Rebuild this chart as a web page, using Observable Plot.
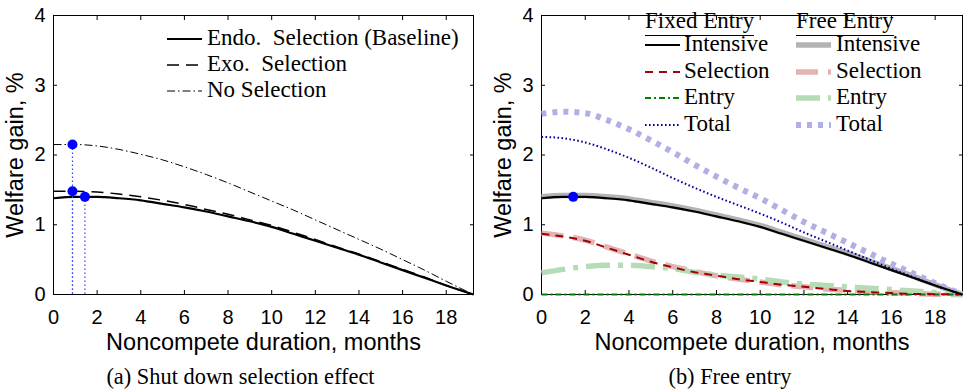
<!DOCTYPE html>
<html><head><meta charset="utf-8">
<script src="https://cdn.jsdelivr.net/npm/d3@7"></script>
<script src="https://cdn.jsdelivr.net/npm/@observablehq/plot@0.6"></script>
<style>
body{margin:0;background:#fff;}
#wrap{position:relative;width:963px;height:390px;overflow:hidden;background:#fff;}
.panel{position:absolute;top:0;}
.cap{position:absolute;top:366px;font-family:"Liberation Serif","Times New Roman",serif;font-size:22.4px;line-height:22px;text-align:center;white-space:pre;}
.leg{position:absolute;font-family:"Liberation Serif","Times New Roman",serif;font-size:23px;line-height:16px;height:16px;white-space:pre;color:#000;}
.leg svg{position:absolute;}
.hdr{position:absolute;font-family:"Liberation Serif","Times New Roman",serif;font-size:23px;line-height:20px;padding-bottom:4px;border-bottom:1px solid #000;white-space:pre;}
</style></head><body><div id="wrap"></div>
<script>
// ---- data ----
const months = [0,1,2,3,4,5,6,7,8,9,10,11,12,13,14,15,16,17,18,19.25];
const xTicks = [0,2,4,6,8,10,12,14,16,18];
const yTicks = [0,1,2,3,4];

// panel (a)
const endoSel = [1.38,1.40,1.40,1.38,1.35,1.30,1.25,1.19,1.12,1.05,0.97,0.87,0.77,0.67,0.57,0.46,0.35,0.24,0.13,0];
const exoSel  = [1.48,1.48,1.47,1.44,1.40,1.35,1.29,1.22,1.15,1.07,0.99,0.89,0.79,0.68,0.58,0.47,0.36,0.25,0.13,0];
const noSel   = [2.15,2.15,2.13,2.08,2.01,1.93,1.83,1.72,1.60,1.47,1.34,1.21,1.07,0.93,0.79,0.65,0.50,0.35,0.19,0];
const dotsAX = [0.87,0.87,1.44];
const dotsAY = [2.15,1.48,1.40];
const legendA = ["Endo.  Selection (Baseline)","Exo.  Selection","No Selection"];

// panel (b)
const fixIntensive = [1.38,1.40,1.40,1.38,1.35,1.30,1.25,1.19,1.12,1.05,0.97,0.87,0.77,0.67,0.57,0.46,0.35,0.24,0.13,0];
const fixSelection = [0.87,0.83,0.77,0.67,0.57,0.47,0.39,0.32,0.27,0.22,0.18,0.14,0.11,0.08,0.05,0.035,0.02,0.01,0.005,0];
const fixEntry     = [0,0,0,0,0,0,0,0,0,0,0,0,0,0,0,0,0,0,0,0];
const fixTotal     = [2.26,2.24,2.18,2.08,1.96,1.82,1.67,1.53,1.40,1.28,1.16,1.03,0.89,0.76,0.63,0.50,0.37,0.25,0.13,0];
const freeIntensive= [1.40,1.42,1.42,1.40,1.37,1.32,1.27,1.21,1.14,1.07,0.99,0.89,0.79,0.69,0.59,0.48,0.37,0.26,0.14,0];
const freeSelection= [0.88,0.84,0.78,0.68,0.58,0.48,0.40,0.33,0.27,0.22,0.18,0.14,0.11,0.08,0.06,0.04,0.025,0.015,0.005,0];
const freeEntry    = [0.31,0.36,0.40,0.42,0.42,0.40,0.37,0.32,0.28,0.25,0.22,0.18,0.15,0.13,0.11,0.09,0.07,0.05,0.03,0];
const freeTotal    = [2.59,2.62,2.60,2.50,2.37,2.21,2.04,1.86,1.69,1.53,1.38,1.21,1.04,0.89,0.74,0.59,0.44,0.30,0.16,0];
const dotsBX = [1.45];
const dotsBY = [1.40];
const legendB = ["Intensive","Selection","Entry","Total"];
const groupsB = ["Fixed Entry","Free Entry"];

// ---- styles ----
const styA = [
  {stroke:"#000", strokeWidth:2.2, dash:null},
  {stroke:"#000", strokeWidth:1.5, dash:"12,7"},
  {stroke:"#000", strokeWidth:1, dash:"8,3,1.5,3"}
];
const styFix = [
  {stroke:"#000", strokeWidth:2.2, dash:null},
  {stroke:"#a00000", strokeWidth:2, dash:"8,6"},
  {stroke:"#008000", strokeWidth:2, dash:"6,3,2,3"},
  {stroke:"#0000a0", strokeWidth:2, dash:"1.6,2.4"}
];
const styFree = [
  {stroke:"#b3b3b3", strokeWidth:5.5, dash:null},
  {stroke:"#e3b3b3", strokeWidth:5.5, dash:"22,10"},
  {stroke:"#b5dcb5", strokeWidth:5.5, dash:"24,8,5,8"},
  {stroke:"#b0b0e4", strokeWidth:6, dash:"5,6"}
];

const rows = vals => months.map((m,i)=>({m, v: vals[i]}));
const lineMark = (vals, s) => Plot.line(rows(vals), {x:"m", y:"v", stroke:s.stroke, strokeWidth:s.strokeWidth, strokeDasharray:s.dash || undefined, curve:"monotone-x", strokeLinecap:"butt"});
const fmt = d => String(d);

function panel(marks, width, marginLeft, marginRight) {
  return Plot.plot({
    width, height: 362, marginLeft, marginRight, marginTop: 15, marginBottom: 68,
    x: {domain:[0,19.25]}, y: {domain:[0,4]},
    style: {fontFamily: "'Liberation Sans', Arial, sans-serif", fontSize: "20px", color:"#000", background:"transparent"},
    marks: [
      Plot.frame({stroke:"#000", strokeWidth:1}),
      Plot.axisX(xTicks, {anchor:"bottom", tickSize:-4, tickFormat:()=>"", label:null}),
      Plot.axisX(xTicks, {anchor:"top", tickSize:-4, tickFormat:()=>"", label:null}),
      Plot.axisY(yTicks, {anchor:"left", tickSize:-4, tickFormat:()=>"", label:null}),
      Plot.axisY(yTicks, {anchor:"right", tickSize:-4, tickFormat:()=>"", label:null}),
      Plot.axisX(xTicks, {anchor:"bottom", tickSize:0, tickPadding:15, fontSize:20, tickFormat:fmt, label:null}),
      Plot.axisY(yTicks, {anchor:"left", tickSize:0, tickPadding:8, fontSize:20, tickFormat:fmt, label:null}),
      Plot.axisX(xTicks, {anchor:"bottom", tickSize:0, tickFormat:()=>"", fontSize:23.5, label:"Noncompete duration, months", labelAnchor:"center", labelOffset:55, labelArrow:"none"}),
      Plot.axisY(yTicks, {anchor:"left", tickSize:0, tickFormat:()=>"", fontSize:23.5, label:"Welfare gain, %", labelAnchor:"center", labelOffset:47, labelArrow:"none"}),
      ...marks
    ]
  });
}

const wrap = document.getElementById("wrap");

// panel (a)
const dotsA = dotsAX.map((x,i)=>({m:x, v:dotsAY[i]}));
const chartA = panel([
  lineMark(noSel, styA[2]),
  lineMark(exoSel, styA[1]),
  lineMark(endoSel, styA[0]),
  Plot.ruleX(dotsA, {x:"m", y1:0, y2:"v", stroke:"#3344ff", strokeWidth:1.2, strokeDasharray:"1.5,2.5"}),
  Plot.dot(dotsA, {x:"m", y:"v", r:5, fill:"#0000ff", stroke:"none"})
], 481, 53, 8);
const pa = document.createElement("div"); pa.className="panel"; pa.style.left="0px"; pa.appendChild(chartA); wrap.appendChild(pa);

// panel (b)
const dotsB = dotsBX.map((x,i)=>({m:x, v:dotsBY[i]}));
const freeVals = [freeIntensive, freeSelection, freeEntry, freeTotal];
const fixVals = [fixIntensive, fixSelection, fixEntry, fixTotal];
const chartB = panel([
  ...freeVals.map((v,i)=>lineMark(v, styFree[i])),
  ...fixVals.map((v,i)=>lineMark(v, styFix[i])).reverse(),
  Plot.dot(dotsB, {x:"m", y:"v", r:5, fill:"#0000ff", stroke:"none"})
], 482, 60, 1);
const pb = document.createElement("div"); pb.className="panel"; pb.style.left="481px"; pb.appendChild(chartB); wrap.appendChild(pb);

// legends
function legendRow(x, y, label, s, textX) {
  const d = document.createElement("div");
  d.className = "leg";
  d.style.left = x + "px"; d.style.top = (y - 9) + "px";
  const svgns = "http://www.w3.org/2000/svg";
  const svg = document.createElementNS(svgns, "svg");
  svg.setAttribute("width", 36); svg.setAttribute("height", 12);
  svg.style.left = "0px"; svg.style.top = "3px";
  const ln = document.createElementNS(svgns, "line");
  ln.setAttribute("x1", 0); ln.setAttribute("x2", 35); ln.setAttribute("y1", 6); ln.setAttribute("y2", 6);
  ln.setAttribute("stroke", s.stroke); ln.setAttribute("stroke-width", s.strokeWidth);
  if (s.dash) ln.setAttribute("stroke-dasharray", s.dash);
  svg.appendChild(ln); d.appendChild(svg);
  const t = document.createElement("span");
  t.textContent = label; t.style.position="absolute"; t.style.left = (textX - x) + "px"; t.style.top="0px";
  d.appendChild(t);
  wrap.appendChild(d);
}
legendA.forEach((l,i)=>legendRow(167, 39 + 26*i, l, styA[i], 207));

const hx = [645, 796];
groupsB.forEach((g,j)=>{
  const h = document.createElement("div"); h.className="hdr"; h.textContent=g;
  h.style.left = hx[j] + "px"; h.style.top = "11px"; wrap.appendChild(h);
});
legendB.forEach((l,i)=>{
  legendRow(645, 45 + 26.6*i, l, styFix[i], 684);
  legendRow(796, 45 + 26.6*i, l, styFree[i], 836);
});

// captions
const capA = document.createElement("div"); capA.className="cap"; capA.style.left="0px"; capA.style.width="481px"; capA.textContent="(a) Shut down selection effect"; wrap.appendChild(capA);
const capB = document.createElement("div"); capB.className="cap"; capB.style.left="489px"; capB.style.width="482px"; capB.textContent="(b) Free entry"; wrap.appendChild(capB);
</script></body></html>
